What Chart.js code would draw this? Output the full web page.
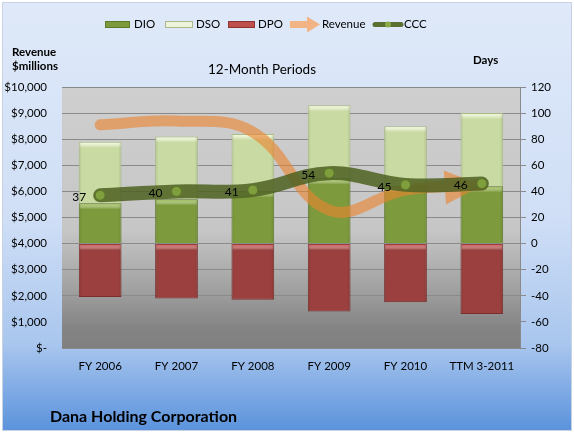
<!DOCTYPE html>
<html>
<head>
<meta charset="utf-8">
<script src="https://cdn.jsdelivr.net/npm/chart.js@4.4.1/dist/chart.umd.min.js"></script>
<style>
  html, body { margin: 0; padding: 0; background: #fff; }
  #wrap { width: 574px; height: 433px; }
</style>
</head>
<body>
<div id="wrap"><canvas id="cccChart" width="574" height="433"></canvas></div>
<script>
const categories = ["FY 2006", "FY 2007", "FY 2008", "FY 2009", "FY 2010", "TTM 3-2011"];
const dio = [31, 34, 40, 50, 44, 44];
const dso = [47, 48, 44, 56, 46, 56];
const dpo = [41, 42, 43, 52, 45, 54];
const revenue = [8550, 8700, 8280, 5280, 6050, 6240];
const ccc = [37, 40, 41, 54, 45, 46];

const REV_COLOR = "rgba(236, 132, 48, 0.62)";
const CCC_COLOR = "rgba(78, 98, 34, 0.86)";

Chart.defaults.font.family = "Lato, 'Open Sans', sans-serif";
Chart.defaults.color = "#000";

function arrowHead(meta) {
  const pts = meta.data;
  const p = pts[pts.length - 1];
  const q = pts[pts.length - 2];
  const ang = Math.atan2(p.y - q.y, p.x - q.x);
  const len = 37, half = 17;
  const bx = p.x - Math.cos(ang) * len;
  const by = p.y - Math.sin(ang) * len;
  const nx = -Math.sin(ang) * half;
  const ny = Math.cos(ang) * half;
  return [[p.x, p.y], [bx + nx, by + ny], [bx - nx, by - ny]];
}

const decor = {
  id: "decor",
  beforeDraw(chart) {
    const { ctx, width, height, chartArea: a } = chart;
    ctx.save();
    ctx.fillStyle = "#fff";
    ctx.fillRect(0, 0, width, height);
    const g = ctx.createLinearGradient(0, 2, 0, 430);
    g.addColorStop(0, "#dfe9f9");
    g.addColorStop(0.5, "#d0dff6");
    g.addColorStop(0.8, "#a9c6ee");
    g.addColorStop(1, "#5b93dc");
    ctx.fillStyle = g;
    ctx.fillRect(2, 2, 570, 429);
    ctx.strokeStyle = "#c8d2e2";
    ctx.strokeRect(2.5, 2.5, 569, 428);

    const pg = ctx.createLinearGradient(0, a.top, 0, a.bottom);
    pg.addColorStop(0, "#cfcfcf");
    pg.addColorStop(0.55, "#c6c6c6");
    pg.addColorStop(0.78, "#a0a0a0");
    pg.addColorStop(0.92, "#848484");
    pg.addColorStop(1, "#808080");
    ctx.fillStyle = pg;
    ctx.fillRect(a.left, a.top, a.right - a.left, a.bottom - a.top + 1);
    ctx.restore();
  },
  beforeDatasetDraw(chart, args) {
    if (chart.data.datasets[args.index].label !== "Revenue") return;
    const { ctx, chartArea: a } = chart;
    const tri = arrowHead(args.meta);
    ctx.save();
    ctx.beginPath();
    ctx.rect(a.left, a.top, a.right - a.left, a.bottom - a.top);
    ctx.moveTo(tri[0][0], tri[0][1]);
    ctx.lineTo(tri[1][0], tri[1][1]);
    ctx.lineTo(tri[2][0], tri[2][1]);
    ctx.closePath();
    ctx.clip("evenodd");
  },
  afterDatasetDraw(chart, args) {
    const ds = chart.data.datasets[args.index];
    const ctx = chart.ctx;
    if (ds.label === "Revenue") {
      ctx.restore();
      const tri = arrowHead(args.meta);
      ctx.save();
      ctx.fillStyle = REV_COLOR;
      ctx.beginPath();
      ctx.moveTo(tri[0][0], tri[0][1]);
      ctx.lineTo(tri[1][0], tri[1][1]);
      ctx.lineTo(tri[2][0], tri[2][1]);
      ctx.closePath();
      ctx.fill();
      ctx.restore();
      return;
    }
    if (ds.type !== "bar") return;
    ctx.save();
    args.meta.data.forEach((el) => {
      const { x, y, base, width } = el.getProps(["x", "y", "base", "width"], true);
      const top = Math.min(y, base);
      const bottom = Math.max(y, base);
      const left = x - width / 2;
      const hg = ctx.createLinearGradient(0, top + 1, 0, top + 6);
      hg.addColorStop(0, ds.highlight);
      hg.addColorStop(1, "rgba(255,255,255,0)");
      ctx.fillStyle = hg;
      ctx.fillRect(left + 1, top + 1, width - 2, 5);
      // soft shading on the sides
      const sg = ctx.createLinearGradient(left, 0, left + width, 0);
      sg.addColorStop(0, "rgba(0,0,0,0.10)");
      sg.addColorStop(0.08, "rgba(0,0,0,0)");
      sg.addColorStop(0.92, "rgba(0,0,0,0)");
      sg.addColorStop(1, "rgba(0,0,0,0.12)");
      ctx.fillStyle = sg;
      ctx.fillRect(left + 1, top + 1, width - 2, bottom - top - 2);
    });
    ctx.restore();
  },
  afterDatasetsDraw(chart) {
    const ctx = chart.ctx;
    const idx = chart.data.datasets.findIndex((d) => d.label === "CCC");
    const meta = chart.getDatasetMeta(idx);
    ctx.save();
    ctx.font = "12px Lato";
    ctx.fillStyle = "#000";
    ctx.textAlign = "center";
    ctx.textBaseline = "middle";
    meta.data.forEach((pt, i) => {
      ctx.fillText(String(ccc[i]), pt.x - 21, pt.y + 2);
    });
    ctx.restore();
  },
  afterDraw(chart) {
    const ctx = chart.ctx;
    ctx.save();
    ctx.textBaseline = "middle";
    // legend
    const y = 24.5;
    const swatch = (x0, x1, fill, stroke) => {
      ctx.fillStyle = fill;
      ctx.fillRect(x0, y - 3.5, x1 - x0, 7);
      ctx.strokeStyle = stroke;
      ctx.lineWidth = 1;
      ctx.strokeRect(x0 + 0.5, y - 3, x1 - x0 - 1, 6);
    };
    ctx.font = "11.5px Lato";
    ctx.fillStyle = "#000";
    swatch(105, 130, "#7d9b3c", "#5e7a2a");
    ctx.fillStyle = "#000"; ctx.fillText("DIO", 134, y);
    swatch(165, 193, "#eef4dc", "#a9b98c");
    ctx.fillStyle = "#000"; ctx.fillText("DSO", 196, y);
    swatch(228, 255, "#c0504d", "#8c3431");
    ctx.fillStyle = "#000"; ctx.fillText("DPO", 258, y);
    ctx.fillStyle = "#f2b485";
    ctx.beginPath();
    ctx.moveTo(290, y - 3.5);
    ctx.lineTo(307, y - 3.5);
    ctx.lineTo(307, y - 8);
    ctx.lineTo(320, y);
    ctx.lineTo(307, y + 8);
    ctx.lineTo(307, y + 3.5);
    ctx.lineTo(290, y + 3.5);
    ctx.closePath();
    ctx.fill();
    ctx.fillStyle = "#000"; ctx.fillText("Revenue", 322, y);
    ctx.strokeStyle = "#5a7030";
    ctx.lineWidth = 5;
    ctx.lineCap = "round";
    ctx.beginPath(); ctx.moveTo(375, y); ctx.lineTo(401, y); ctx.stroke();
    ctx.fillStyle = "#8aaa48";
    ctx.beginPath(); ctx.arc(388, y, 3, 0, Math.PI * 2); ctx.fill();
    ctx.fillStyle = "#000"; ctx.fillText("CCC", 404, y);

    // titles
    ctx.font = "13.5px Lato";
    ctx.textAlign = "center";
    ctx.fillText("12-Month Periods", 262, 70);
    ctx.textAlign = "left";
    ctx.font = "bold 11.5px Lato";
    ctx.fillText("Revenue", 12, 52);
    ctx.fillText("$millions", 12, 66);
    ctx.fillText("Days", 473, 60);
    ctx.font = "bold 16px Lato";
    ctx.fillText("Dana Holding Corporation", 50, 417);
    ctx.restore();
  },
};

const ctx = document.getElementById("cccChart").getContext("2d");
new Chart(ctx, {
  data: {
    labels: categories,
    datasets: [
      {
        type: "line",
        label: "CCC",
        data: ccc,
        yAxisID: "days",
        stack: "ccc",
        order: 0,
        borderColor: CCC_COLOR,
        borderWidth: 14,
        borderCapStyle: "round",
        borderJoinStyle: "round",
        tension: 0.4,
        pointRadius: 5,
        pointBackgroundColor: "#7f9e3c",
        pointBorderColor: "#5c7429",
        pointBorderWidth: 1,
      },
      {
        type: "line",
        label: "Revenue",
        data: revenue,
        yAxisID: "rev",
        order: 1,
        borderColor: REV_COLOR,
        borderWidth: 11,
        borderCapStyle: "round",
        tension: 0.4,
        pointRadius: 0,
      },
      {
        type: "bar",
        label: "DIO",
        data: dio,
        yAxisID: "days",
        order: 2,
        backgroundColor: "#7d9b3c",
        borderColor: "#607a2c",
        borderWidth: 1,
        highlight: "rgba(175, 205, 110, 0.9)",
        barPercentage: 0.56,
        categoryPercentage: 1,
      },
      {
        type: "bar",
        label: "DSO",
        data: dso,
        yAxisID: "days",
        order: 2,
        backgroundColor: "#c9dba3",
        borderColor: "#a9bb86",
        borderWidth: 1,
        highlight: "rgba(245, 250, 222, 0.95)",
        barPercentage: 0.56,
        categoryPercentage: 1,
      },
      {
        type: "bar",
        label: "DPO",
        data: dpo.map((v) => -v),
        yAxisID: "days",
        order: 2,
        backgroundColor: "#9b403e",
        borderColor: "#7a2f2d",
        borderWidth: 1,
        highlight: "rgba(215, 105, 103, 0.95)",
        barPercentage: 0.56,
        categoryPercentage: 1,
      },
    ],
  },
  options: {
    responsive: false,
    animation: false,
    layout: { padding: { top: 87, bottom: 55, left: 0, right: 0 } },
    plugins: {
      legend: { display: false },
      tooltip: { enabled: false },
    },
    scales: {
      x: {
        stacked: true,
        grid: { display: false },
        border: { display: false },
        ticks: { padding: 3, font: { size: 11.5 }, color: "#000" },
        afterFit: (s) => { s.height = 30; },
      },
      rev: {
        position: "left",
        min: 0,
        max: 10000,
        grid: { color: "#8a8a8a", drawTicks: false },
        border: { display: false },
        ticks: {
          stepSize: 1000,
          padding: 15,
          font: { size: 11.5 },
          color: "#000",
          callback: (v) => (v === 0 ? "$-" : "$" + v.toLocaleString("en-US")),
        },
        afterFit: (s) => { s.width = 62; },
      },
      days: {
        position: "right",
        stacked: true,
        min: -80,
        max: 120,
        grid: { drawOnChartArea: false, color: "#8a8a8a", tickLength: 6 },
        border: { display: true, color: "#8a8a8a" },
        ticks: { stepSize: 20, padding: 5, font: { size: 11.5 }, color: "#000" },
        afterFit: (s) => { s.width = 54; },
      },
    },
  },
  plugins: [decor],
});
</script>
</body>
</html>
